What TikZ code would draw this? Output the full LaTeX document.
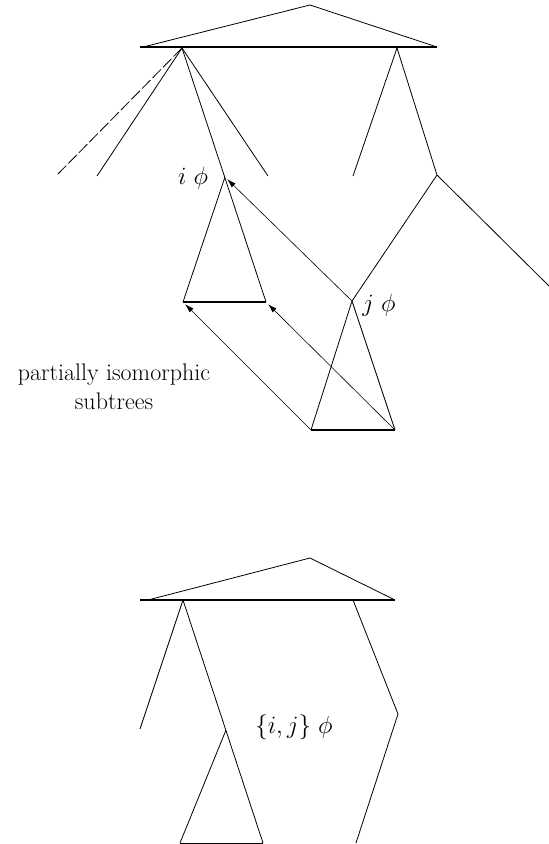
\documentclass[tikz,border=0pt]{standalone}
\usepackage{tikz}
\usetikzlibrary{arrows.meta}

\tikzset{
  branch/.style={line width=0.8pt},
  baseline bar/.style={line width=2.4pt},
  isomap/.style={line width=0.6pt,-{Latex[length=9pt,width=5.5pt]},shorten >=3pt},
  mark label/.style={font=\fontsize{24}{29}\selectfont,inner sep=0pt},
}

\begin{document}
\begin{tikzpicture}[x=1pt,y=-1pt]
  \useasboundingbox (0,0) rectangle (549,844);

  % upper tree
  \coordinate (topL) at (140,47);
  \coordinate (topLs) at (143,47);
  \coordinate (topR) at (437,47);
  \coordinate (topApex) at (310,5);
  \coordinate (lroot) at (182,48);
  \coordinate (rroot) at (397,48);

  \draw[branch] (topLs)--(topApex)--(topR);
  \draw[baseline bar] (topL)--(topR);

  % left subtree with i
  \coordinate (lfar) at (57,175);
  \coordinate (lnear) at (97,176);
  \coordinate (lright) at (268,176);
  \coordinate (inode) at (225,177);
  \coordinate (itL) at (183,302);
  \coordinate (itR) at (266,302);

  \draw[branch,dash pattern=on 12pt off 3pt] (lroot)--(lfar);
  \draw[branch] (lroot)--(lnear);
  \draw[branch] (lroot)--(lright);
  \draw[branch] (lroot)--(itR);
  \draw[branch] (itL)--(inode);
  \draw[line width=2pt] (itL)--(itR);

  % right subtree with j
  \coordinate (rleft) at (353,176);
  \coordinate (rmid) at (437,175);
  \coordinate (rfar) at (549,286);
  \coordinate (jnode) at (352,301);
  \coordinate (jtL) at (311,430);
  \coordinate (jtR) at (395,430);

  \draw[branch] (rroot)--(rleft);
  \draw[branch] (rroot)--(rmid)--(rfar);
  \draw[branch] (rmid)--(jnode);
  \draw[branch] (jtL)--(jnode)--(jtR);
  \draw[baseline bar] (jtL)--(jtR);

  % partial isomorphism
  \draw[isomap] (jnode)--(inode);
  \draw[isomap] (jtL)--(itL);
  \draw[isomap] (jtR)--(itR);

  \node[mark label] (ilabel) at (193,178) {$i\ \phi$};
  \node[mark label] (jlabel) at (379,305) {$j\ \phi$};
  \node[mark label,align=center] (isonote) at (114,387)
  {partially isomorphic\\subtrees};

  % lower tree
  \coordinate (btL) at (140,600);
  \coordinate (btLs) at (148,600);
  \coordinate (btR) at (395,600);
  \coordinate (btApex) at (310,558);
  \coordinate (broot) at (183,600);
  \coordinate (bleft) at (140,729);
  \coordinate (bnode) at (226,730);
  \coordinate (bsL) at (180,843);
  \coordinate (bsR) at (263,843);
  \coordinate (bright) at (353,600);
  \coordinate (brmid) at (398,714);
  \coordinate (brend) at (356,843);

  \draw[branch] (btLs)--(btApex)--(btR);
  \draw[baseline bar] (btL)--(btR);
  \draw[branch] (broot)--(bleft);
  \draw[branch] (broot)--(bsR);
  \draw[branch] (bsL)--(bnode);
  \draw[branch] (bsL)--(bsR);
  \draw[branch] (bright)--(brmid)--(brend);

  \node[mark label] (ijlabel) at (294,727) {$\{i,j\}\ \phi$};
\end{tikzpicture}
\end{document}
